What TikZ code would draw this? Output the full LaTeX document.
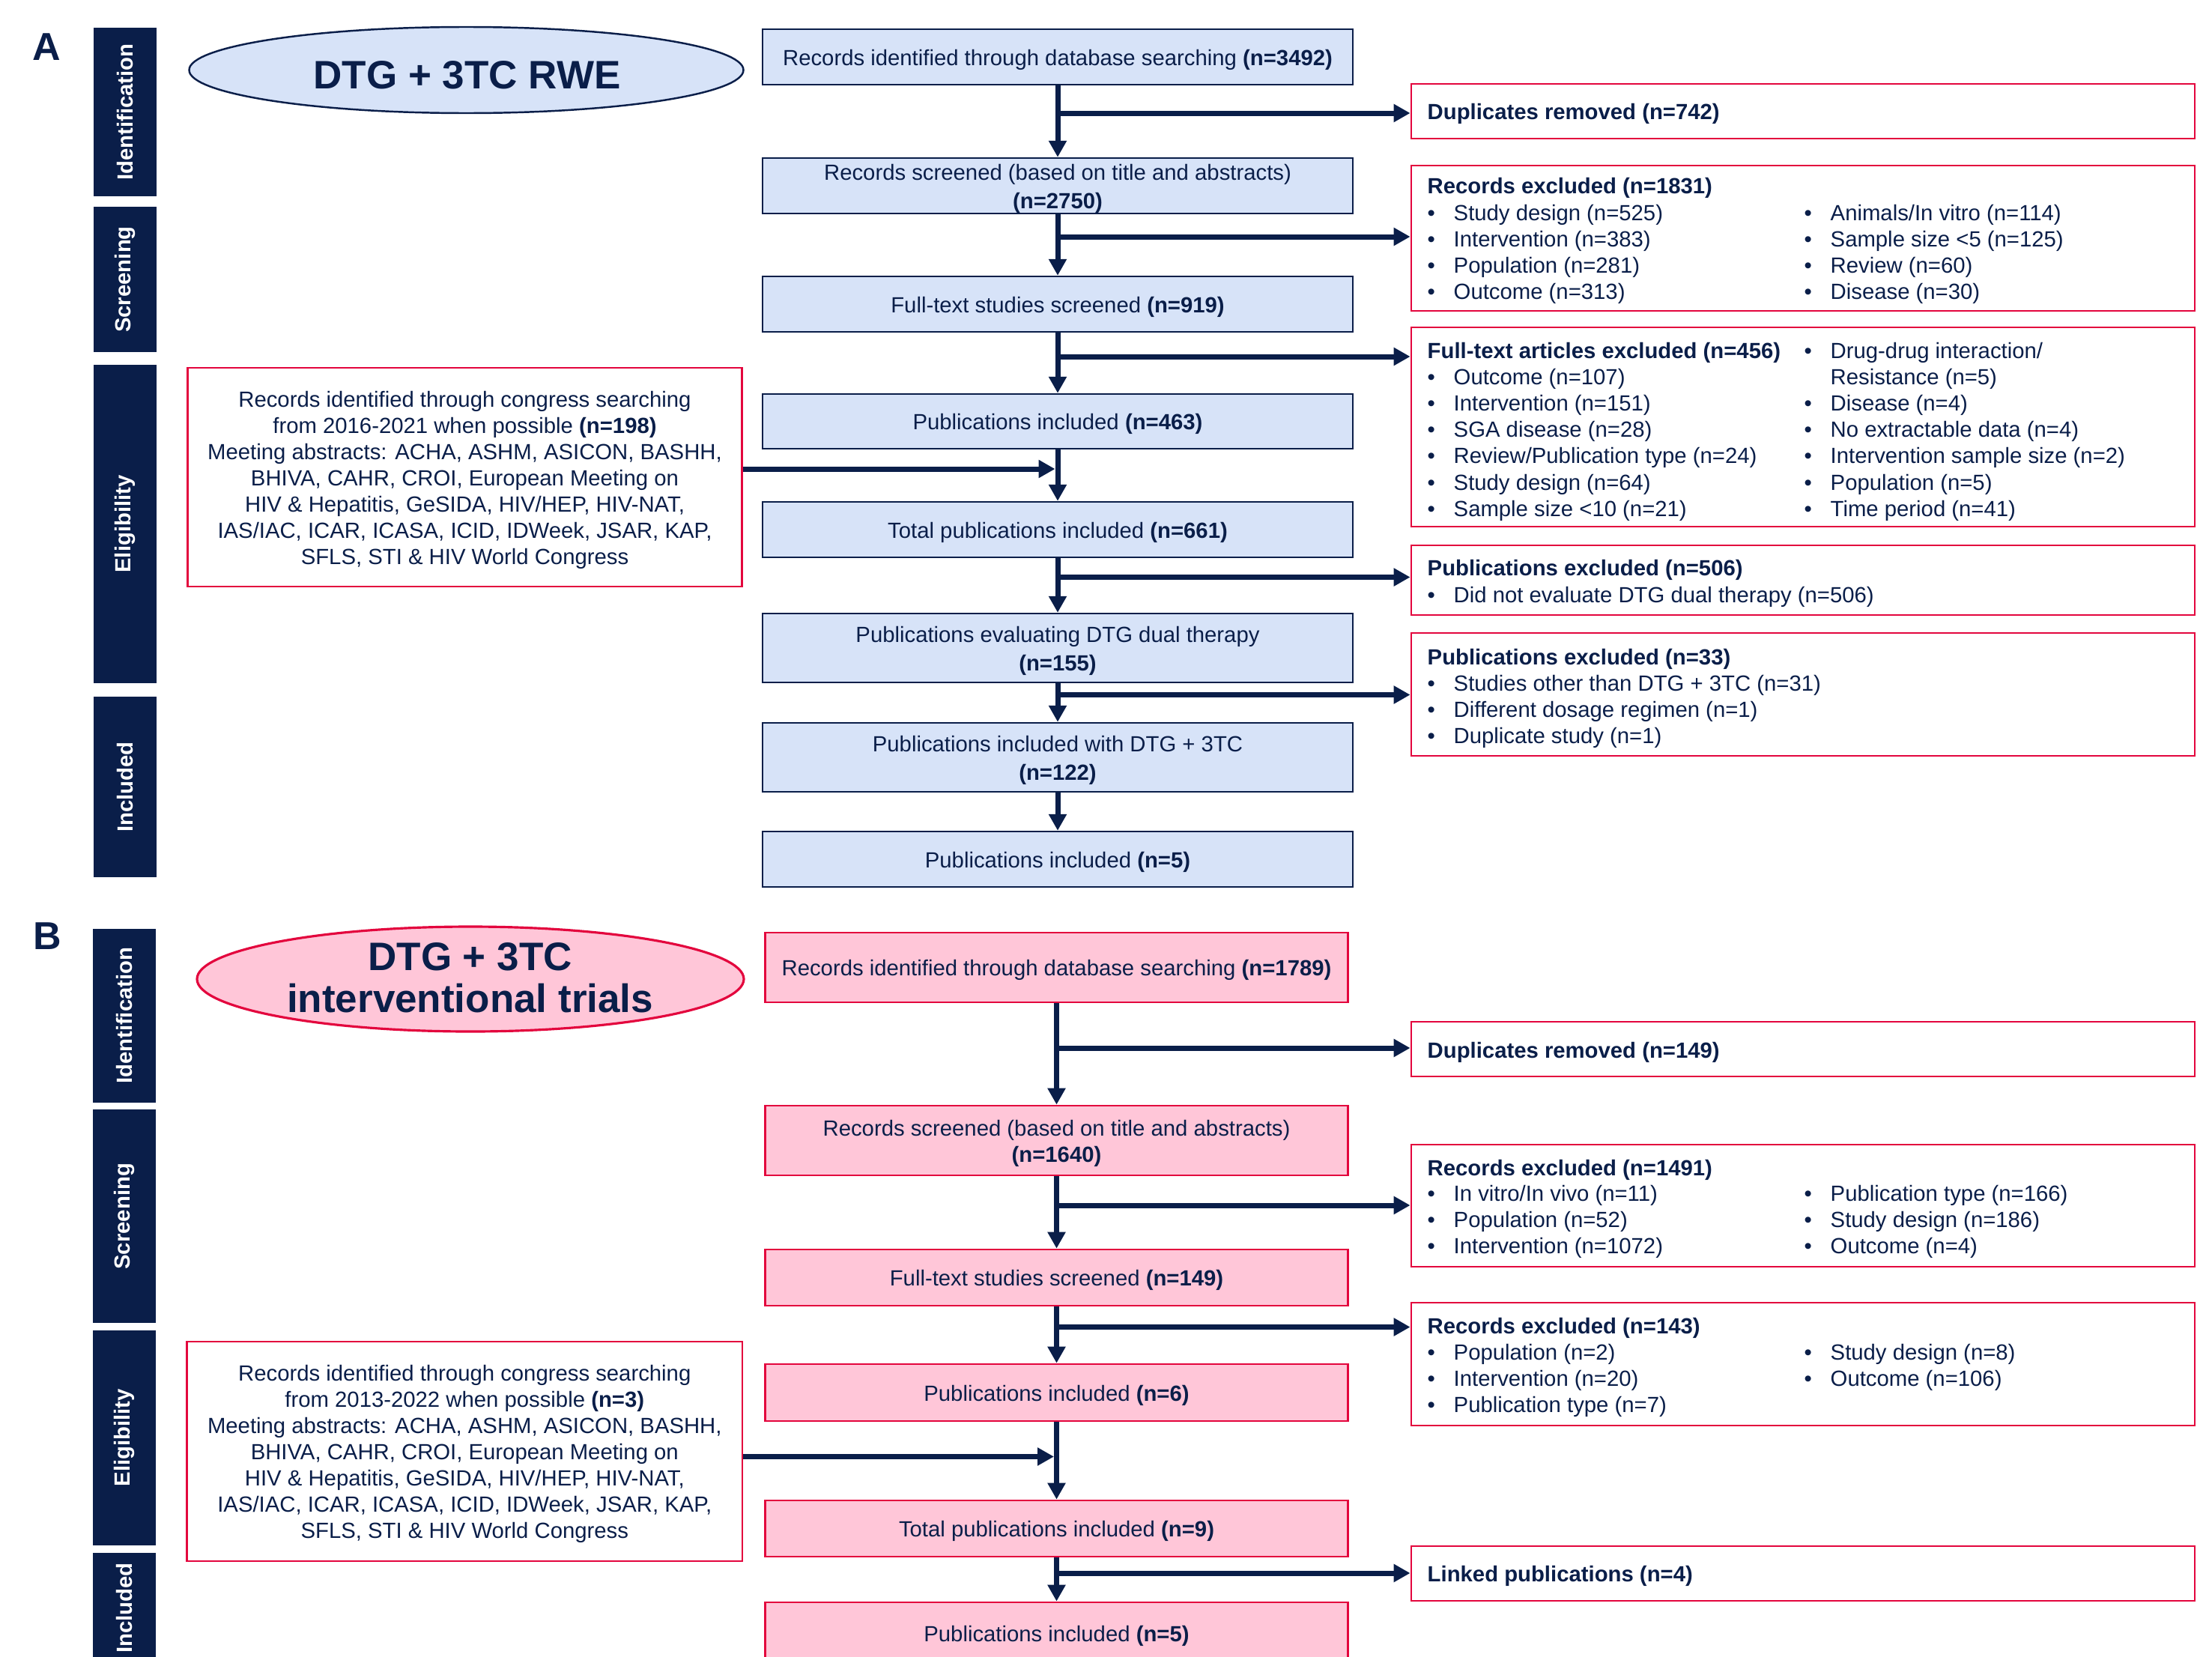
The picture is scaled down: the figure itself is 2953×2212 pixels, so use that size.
\documentclass[tikz,border=0pt]{standalone}
\usepackage{fontspec}
\setmainfont{Liberation Sans}
\usetikzlibrary{arrows.meta,shapes.geometric,calc}
\definecolor{navy}{HTML}{0A1E49}
\definecolor{bfill}{HTML}{D7E3F8}
\definecolor{pfill}{HTML}{FFC6D8}
\definecolor{redb}{HTML}{E3053D}
\newcommand\bul{\makebox[3.5mm][l]{\textbullet}}
\newcommand\nob{\makebox[3.5mm][l]{}}
% empty box from corners: style, name, x1, y1, x2, y2
\newcommand\ebx[6]{\node[#1, minimum width={(#5-#3)*0.1mm}, minimum height={(#6-#4)*0.1mm}] (#2) at ({(#3+#5)/2},{(#4+#6)/2}) {};}
% box with text: style, name, x1, y1, x2, y2, text (text set a little lower, as in the reference)
\newcommand\bx[7]{\ebx{#1}{#2}{#3}{#4}{#5}{#6}\node[#1, draw=none, fill=none] (#2t) at ({(#3+#5)/2},{(#4+#6)/2+3.5}) {#7};}
% column of text lines: name, x, first baseline, step, list
\newcommand\col[5]{\foreach \t [count=\i from 0] in {#5} {\node[txt,anchor=base west] (#1-\i) at ({#2},{#3+#4*\i}) {\t};}}
\begin{document}
\begin{tikzpicture}[x=0.1mm,y=-0.1mm,
  txt/.style={font=\fontsize{2.93mm}{3.5mm}\selectfont, text=navy, inner sep=0pt},
  hd/.style={txt, font=\fontsize{2.93mm}{3.5mm}\selectfont\bfseries, anchor=base west},
  bbox/.style={txt, draw=navy, line width=0.7pt, fill=bfill, align=center},
  pbox/.style={txt, draw=redb, line width=0.8pt, fill=pfill, align=center},
  wbox/.style={txt, draw=redb, line width=0.8pt, fill=white, align=center},
  two/.style={font=\fontsize{2.93mm}{3.8mm}\selectfont},
  side/.style={fill=navy, text=white, inner sep=0pt, rotate=90, font=\fontsize{2.93mm}{3.5mm}\selectfont\bfseries},
  arr/.style={draw=navy, line width=0.7mm, -{Triangle[length=2.2mm,width=2.3mm]}},
  plab/.style={font=\fontsize{5.2mm}{5.6mm}\selectfont\bfseries, text=navy, inner sep=0pt},
  etitle/.style={font=\fontsize{5.3mm}{5.6mm}\selectfont\bfseries, text=navy, inner sep=0pt, align=center}
]
\path[fill=white,use as bounding box] (0,0) rectangle (2953,2212);

% ---------------- Panel A ----------------
\node[plab] (labA) at (62,63) {A};
\node[side, minimum width={225*0.1mm}, minimum height={84*0.1mm}] (sA1) at (167,149.5) {Identification};
\node[side, minimum width={194*0.1mm}, minimum height={84*0.1mm}] (sA2) at (167,373) {Screening};
\node[side, minimum width={425*0.1mm}, minimum height={84*0.1mm}] (sA3) at (167,699.5) {Eligibility};
\node[side, minimum width={241*0.1mm}, minimum height={84*0.1mm}] (sA4) at (167,1050.5) {Included};

\node[ellipse, draw=navy, line width=0.7pt, fill=bfill, inner sep=0pt, minimum width={740*0.1mm}, minimum height={115*0.1mm}] (eA) at (622.5,93.5) {};
\node[etitle] (eAt) at (623.5,100.5) {DTG + 3TC RWE};

\bx{bbox}{a1}{1018}{39}{1806}{113}{Records identified through database searching \textbf{(n=3492)}}
\bx{bbox,two}{a2}{1018}{211}{1806}{285}{Records screened (based on title and abstracts)\\\textbf{(n=2750)}}
\bx{bbox}{a3}{1018}{369}{1806}{443}{Full-text studies screened \textbf{(n=919)}}
\bx{bbox}{a4}{1018}{526}{1806}{599}{Publications included \textbf{(n=463)}}
\bx{bbox}{a5}{1018}{670}{1806}{744}{Total publications included \textbf{(n=661)}}
\bx{bbox,two}{a6}{1018}{819}{1806}{911}{Publications evaluating DTG dual therapy\\\textbf{(n=155)}}
\bx{bbox,two}{a7}{1018}{965}{1806}{1057}{Publications included with DTG + 3TC\\\textbf{(n=122)}}
\bx{bbox}{a8}{1018}{1110}{1806}{1184}{Publications included \textbf{(n=5)}}

\bx{wbox}{cA}{250.5}{491}{990.5}{783}{Records identified through congress searching\\from 2016-2021 when possible \textbf{(n=198)}\\Meeting abstracts: ACHA, ASHM, ASICON, BASHH,\\BHIVA, CAHR, CROI, European Meeting on\\HIV \& Hepatitis, GeSIDA, HIV/HEP, HIV-NAT,\\IAS/IAC, ICAR, ICASA, ICID, IDWeek, JSAR, KAP,\\SFLS, STI \& HIV World Congress}

\ebx{wbox}{r1}{1884}{112}{2930}{185}
\ebx{wbox}{r2}{1884}{221}{2930}{415}
\ebx{wbox}{r3}{1884}{437}{2930}{703}
\ebx{wbox}{r4}{1884}{728}{2930}{821}
\ebx{wbox}{r5}{1884}{845}{2930}{1009}

\node[hd] (r1h) at (1905,159.5) {Duplicates removed (n=742)};
\node[hd] (r2h) at (1905,258) {Records excluded (n=1831)};
\col{r2a}{1905}{294}{35}{\bul Study design (n=525),\bul Intervention (n=383),\bul Population (n=281),\bul Outcome (n=313)}
\col{r2b}{2408}{294}{35}{\bul Animals/In vitro (n=114),\bul Sample size <5 (n=125),\bul Review (n=60),\bul Disease (n=30)}
\node[hd] (r3h) at (1905,478) {Full-text articles excluded (n=456)};
\col{r3a}{1905}{513.2}{35.2}{\bul Outcome (n=107),\bul Intervention (n=151),\bul SGA disease (n=28),\bul Review/Publication type (n=24),\bul Study design (n=64),\bul Sample size <10 (n=21)}
\col{r3b}{2408}{478}{35.2}{\bul Drug-drug interaction/,\nob Resistance (n=5),\bul Disease (n=4),\bul No extractable data (n=4),\bul Intervention sample size (n=2),\bul Population (n=5),\bul Time period (n=41)}
\node[hd] (r4h) at (1905,768) {Publications excluded (n=506)};
\col{r4a}{1905}{804.5}{35}{\bul Did not evaluate DTG dual therapy (n=506)}
\node[hd] (r5h) at (1905,887.5) {Publications excluded (n=33)};
\col{r5a}{1905}{922.5}{35}{\bul Studies other than DTG + 3TC (n=31),\bul Different dosage regimen (n=1),\bul Duplicate study (n=1)}

\draw[arr] (a1.south) -- (a2.north);
\draw[arr] (a2.south) -- (a3.north);
\draw[arr] (a3.south) -- (a4.north);
\draw[arr] (a4.south) -- (a5.north);
\draw[arr] (a5.south) -- (a6.north);
\draw[arr] (a6.south) -- (a7.north);
\draw[arr] (a7.south) -- (a8.north);
\coordinate (jA1) at (1412,151);
\coordinate (jA2) at (1412,316);
\coordinate (jA3) at (1412,476);
\coordinate (jA4) at (1412,770.5);
\coordinate (jA5) at (1412,927.5);
\draw[arr] (jA1) -- (jA1 -| r1.west);
\draw[arr] (jA2) -- (jA2 -| r2.west);
\draw[arr] (jA3) -- (jA3 -| r3.west);
\draw[arr] (jA4) -- (jA4 -| r4.west);
\draw[arr] (jA5) -- (jA5 -| r5.west);
\coordinate (cAj) at (1408.5,626);
\draw[arr] (cAj -| cA.east) -- (cAj);

% ---------------- Panel B ----------------
\node[plab] (labB) at (63,1250) {B};
\node[side, minimum width={231.5*0.1mm}, minimum height={84*0.1mm}] (sB1) at (166,1355.8) {Identification};
\node[side, minimum width={285.5*0.1mm}, minimum height={84*0.1mm}] (sB2) at (166,1623.7) {Screening};
\node[side, minimum width={286.5*0.1mm}, minimum height={84*0.1mm}] (sB3) at (166,1919.3) {Eligibility};
\node[side, minimum width={147*0.1mm}, minimum height={84*0.1mm}] (sB4) at (166,2146.5) {Included};

\node[ellipse, draw=redb, line width=0.9pt, fill=pfill, inner sep=0pt, minimum width={730*0.1mm}, minimum height={140*0.1mm}] (eB) at (628,1307) {};
\node[etitle] (eBt) at (627.6,1305.5) {DTG + 3TC\\interventional trials};

\bx{pbox}{b1}{1021.5}{1245}{1799.5}{1338}{Records identified through database searching \textbf{(n=1789)}}
\bx{pbox}{b2}{1021.5}{1476}{1799.5}{1569}{Records screened (based on title and abstracts)\\\textbf{(n=1640)}}
\bx{pbox}{b3}{1021.5}{1668}{1799.5}{1743}{Full-text studies screened \textbf{(n=149)}}
\bx{pbox}{b4}{1021.5}{1821}{1799.5}{1897}{Publications included \textbf{(n=6)}}
\bx{pbox}{b5}{1021.5}{2003}{1799.5}{2078}{Total publications included \textbf{(n=9)}}
\bx{pbox}{b6}{1021.5}{2139}{1799.5}{2221}{Publications included \textbf{(n=5)}}

\bx{wbox}{cB}{249.6}{1791}{991}{2084}{Records identified through congress searching\\from 2013-2022 when possible \textbf{(n=3)}\\Meeting abstracts: ACHA, ASHM, ASICON, BASHH,\\BHIVA, CAHR, CROI, European Meeting on\\HIV \& Hepatitis, GeSIDA, HIV/HEP, HIV-NAT,\\IAS/IAC, ICAR, ICASA, ICID, IDWeek, JSAR, KAP,\\SFLS, STI \& HIV World Congress}

\ebx{wbox}{q1}{1884}{1364}{2930}{1437}
\ebx{wbox}{q2}{1884}{1528}{2930}{1691}
\ebx{wbox}{q3}{1884}{1739}{2930}{1903}
\ebx{wbox}{q4}{1884}{2064}{2930}{2137}

\node[hd] (q1h) at (1905,1412) {Duplicates removed (n=149)};
\node[hd] (q2h) at (1905,1569) {Records excluded (n=1491)};
\col{q2a}{1905}{1603.5}{35}{\bul In vitro/In vivo (n=11),\bul Population (n=52),\bul Intervention (n=1072)}
\col{q2b}{2408}{1603.5}{35}{\bul Publication type (n=166),\bul Study design (n=186),\bul Outcome (n=4)}
\node[hd] (q3h) at (1905,1780) {Records excluded (n=143)};
\col{q3a}{1905}{1815.5}{35}{\bul Population (n=2),\bul Intervention (n=20),\bul Publication type (n=7)}
\col{q3b}{2408}{1815.5}{35}{\bul Study design (n=8),\bul Outcome (n=106)}
\node[hd] (q4h) at (1905,2111) {Linked publications (n=4)};

\draw[arr] (b1.south) -- (b2.north);
\draw[arr] (b2.south) -- (b3.north);
\draw[arr] (b3.south) -- (b4.north);
\draw[arr] (b4.south) -- (b5.north);
\draw[arr] (b5.south) -- (b6.north);
\coordinate (jB1) at (1410.5,1399);
\coordinate (jB2) at (1410.5,1609);
\coordinate (jB3) at (1410.5,1771.5);
\coordinate (jB4) at (1410.5,2100);
\draw[arr] (jB1) -- (jB1 -| q1.west);
\draw[arr] (jB2) -- (jB2 -| q2.west);
\draw[arr] (jB3) -- (jB3 -| q3.west);
\draw[arr] (jB4) -- (jB4 -| q4.west);
\coordinate (cBj) at (1407,1944.5);
\draw[arr] (cBj -| cB.east) -- (cBj);
\end{tikzpicture}
\end{document}
